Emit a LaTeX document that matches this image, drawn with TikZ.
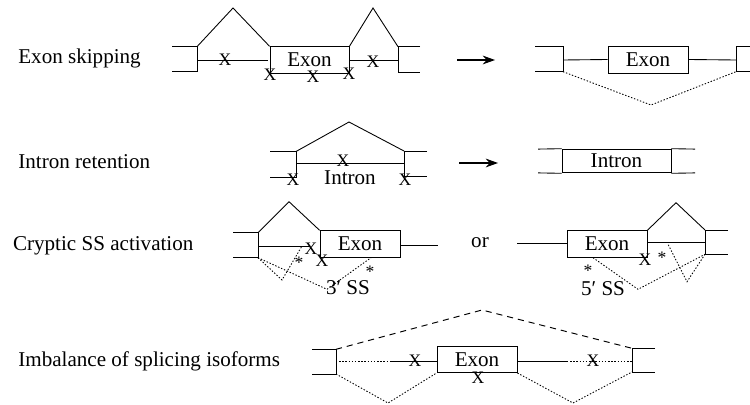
\documentclass[tikz,border=0pt]{standalone}
\usepackage{fontspec}
\setmainfont{Liberation Serif}
\usetikzlibrary{arrows.meta}
\begin{document}
\begin{tikzpicture}[x=0.02cm,y=-0.02cm,
  ln/.style={line width=0.5pt},
  dots/.style={line width=0.5pt, dash pattern=on 0.8pt off 1pt},
  dashtwo/.style={line width=0.55pt, dash pattern=on 3.5pt off 2.8pt},
  box/.style={draw, line width=0.5pt, minimum width=1.6cm, minimum height=0.54cm, inner sep=0pt, font=\fontsize{12}{14}\selectfont},
  lbl/.style={anchor=base west, inner sep=0pt, font=\fontsize{12}{14}\selectfont},
  xm/.style={inner sep=0pt, font=\fontsize{10}{12}\selectfont},
  ast/.style={inner sep=0pt, font=\fontsize{10}{12}\selectfont},
  arr/.style={line width=0.6pt, -{Stealth[length=7pt,width=5pt]}},
  txt/.style={inner sep=0pt, font=\fontsize{12}{14}\selectfont}
]
\useasboundingbox (0,0) rectangle (750,405);

% ---------- labels ----------
\node[lbl] (l1) at (18,63.3) {Exon skipping};
\node[lbl] (l2) at (18,168.3) {Intron retention};
\node[lbl] (l3) at (12.7,250.7) {Cryptic SS activation};
\node[lbl] (l4) at (18,366.7) {Imbalance of splicing isoforms};

% ---------- Row 1: exon skipping ----------
\node[box, minimum width=1.58cm, minimum height=0.53cm] (ex1) at (309.5,60) {Exon};
\coordinate (a1) at (172,46.7);
\coordinate (a2) at (197,46.7);
\coordinate (a3) at (197,71);
\coordinate (a4) at (172,71);
\draw[ln] (a1) -- (a2) -- (a3) -- (a4);
\coordinate (p1) at (233,8);
\draw[ln] (a2) -- (p1) -- (ex1.north west);
\coordinate (i1) at (197,60);
\coordinate (i2) at (268,60);
\draw[ln] (i1) -- (i2);
\coordinate (p2) at (373,8);
\coordinate (b1) at (420,46.7);
\coordinate (b2) at (398,46.7);
\coordinate (b3) at (398,72);
\coordinate (b4) at (420,72);
\draw[ln] (ex1.north east) -- (p2) -- (b2);
\draw[ln] (b1) -- (b2) -- (b3) -- (b4);
\coordinate (i3) at (398,60);
\draw[ln] (ex1.east) -- (i3);
\node[xm] (x11) at (225,60) {X};
\node[xm] (x12) at (270,75) {X};
\node[xm] (x13) at (313,77) {X};
\node[xm] (x14) at (349,74) {X};
\node[xm] (x15) at (373,62) {X};

\coordinate (r1s) at (457,60);
\coordinate (r1e) at (495,60);
\draw[arr] (r1s) -- (r1e);

\node[box] (ex2) at (648,59.5) {Exon};
\coordinate (c1) at (535,46.7);
\coordinate (c2) at (563,46.7);
\coordinate (c3) at (563,71.7);
\coordinate (c4) at (535,71.7);
\draw[ln] (c1) -- (c2) -- (c3) -- (c4);
\coordinate (c5) at (563,60);
\draw[ln] (c5) -- (ex2.west);
\coordinate (d1) at (750,46.7);
\coordinate (d2) at (736,46.7);
\coordinate (d3) at (736,71.7);
\coordinate (d4) at (750,71.7);
\draw[ln] (d1) -- (d2) -- (d3) -- (d4);
\coordinate (d5) at (736,60);
\draw[ln] (ex2.east) -- (d5);
\coordinate (v1) at (651,105);
\draw[dots] (c3) -- (v1) -- (d3);

% ---------- Row 2: intron retention ----------
\coordinate (e1) at (270,151.5);
\coordinate (e2) at (296,151.5);
\coordinate (e3) at (296,177.5);
\coordinate (e4) at (270,177.5);
\draw[ln] (e1) -- (e2) -- (e3) -- (e4);
\coordinate (f1) at (427,151);
\coordinate (f2) at (404,151);
\coordinate (f3) at (404,176.5);
\coordinate (f4) at (427,176.5);
\draw[ln] (f1) -- (f2) -- (f3) -- (f4);
\coordinate (p3) at (349,122);
\draw[ln] (e2) -- (p3) -- (f2);
\coordinate (g1) at (296,163.3);
\coordinate (g2) at (404,163.3);
\draw[ln] (g1) -- (g2);
\node[txt] (intr1) at (350,178) {Intron};
\node[xm] (x21) at (293,180) {X};
\node[xm] (x22) at (343,160.5) {X};
\node[xm] (x23) at (405,180) {X};

\coordinate (r2s) at (459,163);
\coordinate (r2e) at (498,163);
\draw[arr] (r2s) -- (r2e);

\node[box, minimum width=2.18cm, minimum height=0.475cm] (in2) at (616.5,161) {Intron};
\coordinate (h1) at (538,149.1);
\coordinate (h2) at (538,172.9);
\coordinate (h3) at (695,149.1);
\coordinate (h4) at (695,172.9);
\draw[ln] (h1) -- (in2.north west);
\draw[ln] (h2) -- (in2.south west);
\draw[ln] (in2.north east) -- (h3);
\draw[ln] (in2.south east) -- (h4);

% ---------- Row 3: cryptic SS activation ----------
\node[box] (ex3) at (360,244.2) {Exon};
\coordinate (k1) at (233,232.7);
\coordinate (k2) at (258,232.7);
\coordinate (k3) at (258,257.7);
\coordinate (k4) at (233,257.7);
\draw[ln] (k1) -- (k2) -- (k3) -- (k4);
\coordinate (p4) at (289,201.7);
\draw[ln] (k2) -- (p4) -- (ex3.north west);
\coordinate (m1) at (258,246);
\coordinate (m2) at (310,246);
\draw[ln] (m1) -- (m2);
\coordinate (m3) at (438,245);
\draw[ln] (ex3.east |- m3) -- (m3);
\node[xm] (x31) at (311,249) {X};
\node[xm] (x32) at (322,261) {X};
\coordinate (n1) at (282,280);
\coordinate (n2) at (302,246);
\coordinate (n3) at (327,289.3);
\coordinate (n4) at (371,257.7);
\draw[dots] (k3) -- (n1) -- (n2);
\draw[dots] (k3) -- (n3) -- (n4);
\node[ast] (s31) at (299,263) {*};
\node[ast] (s32) at (370,272) {*};
\node[txt] (ss3) at (348,288) {3\char"2032\ SS};

\node[txt] (or) at (480,243) {or};

\node[box] (ex4) at (607,244.2) {Exon};
\coordinate (q1) at (517,243.3);
\draw[ln] (q1) -- (ex4.west |- q1);
\coordinate (p5) at (676,202.7);
\coordinate (t1) at (728,230);
\coordinate (t2) at (705,230);
\coordinate (t3) at (705,254.3);
\coordinate (t4) at (728,254.3);
\draw[ln] (ex4.north east) -- (p5) -- (t2);
\draw[ln] (t1) -- (t2) -- (t3) -- (t4);
\coordinate (t5) at (647,242.7);
\coordinate (t6) at (705,242.7);
\draw[ln] (t5) -- (t6);
\node[xm] (x41) at (645,260) {X};
\node[ast] (s41) at (662,258) {*};
\coordinate (u1) at (687,281.7);
\coordinate (u2) at (668,244.3);
\coordinate (u3) at (593,257.7);
\coordinate (u4) at (638,289.3);
\draw[dots] (t3) -- (u1) -- (u2);
\draw[dots] (u3) -- (u4) -- (t3);
\node[ast] (s42) at (588,271) {*};
\node[txt] (ss4) at (603,289) {5\char"2032\ SS};

% ---------- Row 4: imbalance ----------
\node[box, minimum height=0.53cm] (ex5) at (477,359.3) {Exon};
\coordinate (w1) at (312,349.3);
\coordinate (w2) at (336,349.3);
\coordinate (w3) at (336,374);
\coordinate (w4) at (312,374);
\draw[ln] (w1) -- (w2) -- (w3) -- (w4);
\coordinate (z1) at (655,348.3);
\coordinate (z2) at (632,348.3);
\coordinate (z3) at (632,372);
\coordinate (z4) at (655,372);
\draw[ln] (z1) -- (z2) -- (z3) -- (z4);
\coordinate (p6) at (482,310);
\draw[dashtwo] (w2) -- (p6) -- (z2);
\coordinate (y1) at (336,361);
\coordinate (y2) at (390,361);
\coordinate (y3) at (567,361);
\coordinate (y4) at (632,361);
\draw[dots] (y1) -- (y2);
\draw[ln] (y2) -- (ex5.west |- y2);
\draw[ln] (ex5.east |- y3) -- (y3);
\draw[dots] (y3) -- (y4);
\node[xm] (x51) at (415,361) {X};
\node[xm] (x52) at (478,377.3) {X};
\node[xm] (x53) at (593,361) {X};
\coordinate (o1) at (388,403);
\coordinate (o2) at (573,403);
\draw[dots] (w3) -- (o1) -- (ex5.south west);
\draw[dots] (ex5.south east) -- (o2) -- (z3);
\end{tikzpicture}
\end{document}
